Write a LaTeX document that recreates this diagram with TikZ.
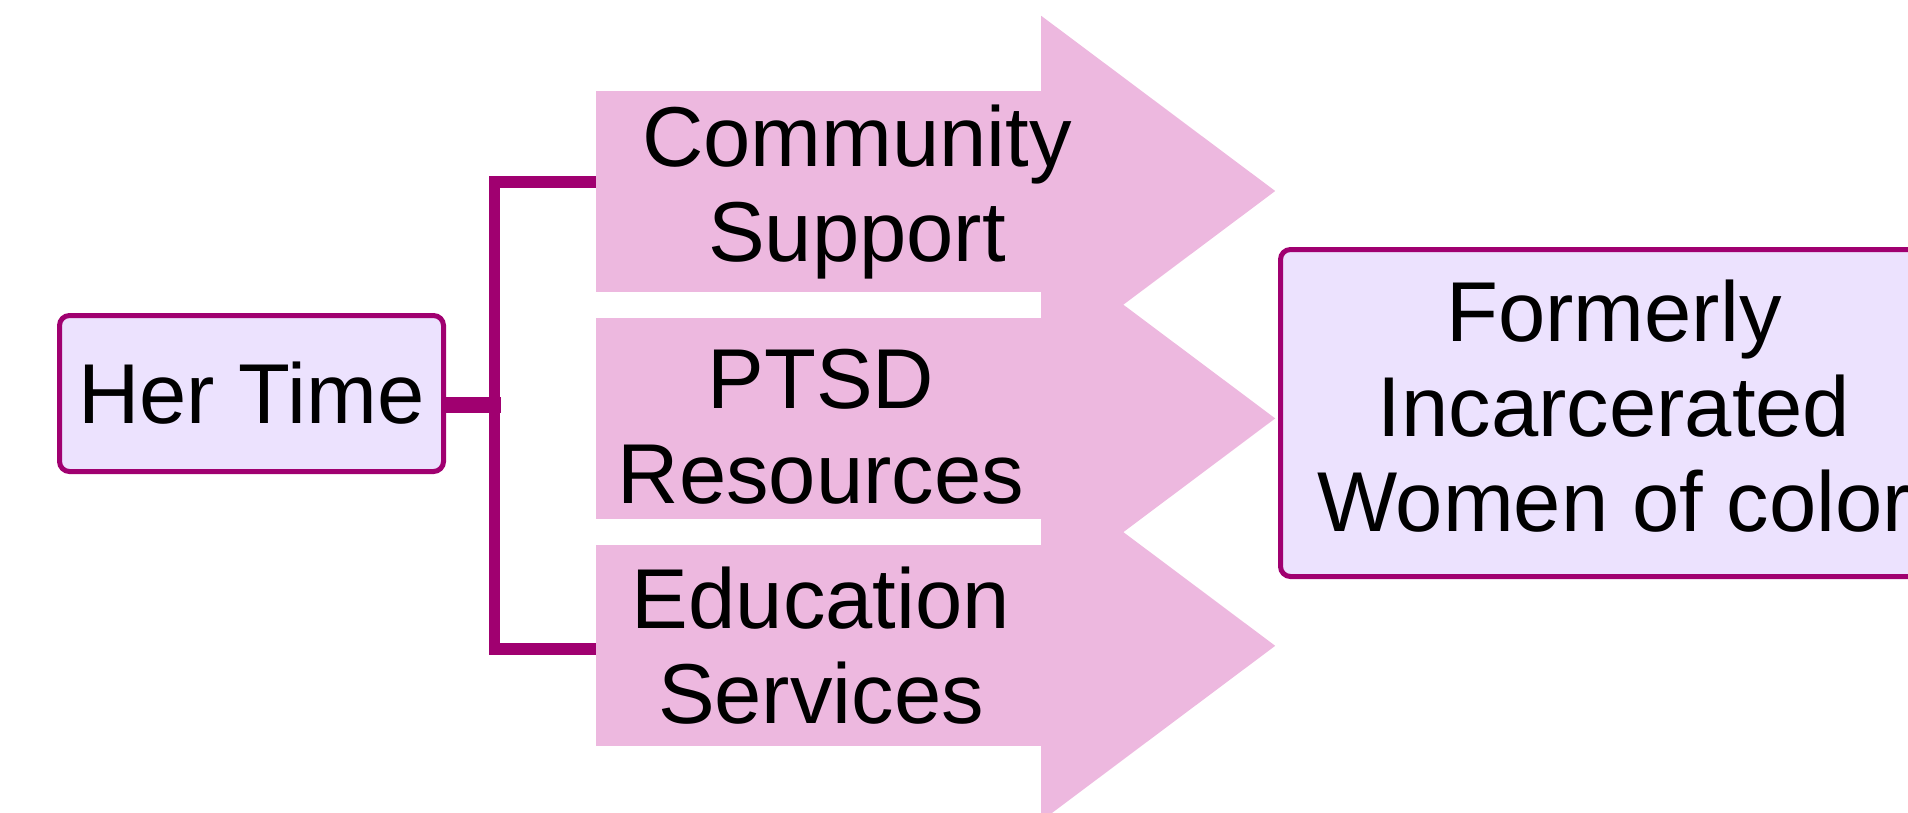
\documentclass[tikz,border=0pt]{standalone}
\usepackage{fontspec}
\setmainfont{Liberation Sans}
\usepackage{tikz}
\usetikzlibrary{positioning}
\definecolor{barpink}{RGB}{237,184,223}
\definecolor{boxlilac}{RGB}{236,226,254}
\definecolor{plum}{RGB}{160,0,112}

\begin{document}
\begin{tikzpicture}[x=1pt,y=-1pt,% one unit is one pixel of the sketch, y grows downwards
		every node/.style={
			align=center,		% so that the "\\" breaks the line
			inner sep=0pt,
			font=\fontsize{85}{95}\selectfont
		},
		box/.style={rectangle,rounded corners=10pt,line width=5pt,draw=plum,fill=boxlilac},
		bar/.style={rectangle,fill=barpink,minimum width=446pt,minimum height=201pt},
		link/.style={draw=plum,line width=11.5pt},
		node distance=26pt
	]
	\useasboundingbox (0,0) rectangle (1908,812);
	\clip (0,0) rectangle (1908,812);
	% the three arrows
	\node[bar](A1) at (819,191) {};
	\node[bar](A2)[below= of A1] {};
	\node[bar](A3)[below= of A2] {};
	\foreach \a in {A1,A2,A3}
		\fill[barpink] ([xshift=-1pt,yshift=74.5pt]\a.north east) -- ([xshift=233pt]\a.east) -- ([xshift=-1pt,yshift=-74.5pt]\a.south east) -- cycle;
	\node(L1) at ([xshift=38pt,yshift=-1pt]A1.center) {Community\\Support};
	\node(L2) at ([xshift=2pt,yshift=-8.5pt]A2.center) {PTSD\\Resources};
	\node(L3) at ([xshift=2pt]A3.center) {Education\\Services};
	% boxes left and right
	\node[box,minimum width=384pt,minimum height=156pt](H) at (251.5,393.5) {Her Time};
	\node[box,minimum width=667pt,minimum height=327pt](W) at (1614,413) {};
	\node(WL) at ([yshift=6.5pt]W.center) {Formerly\\Incarcerated\\Women of color};
	% connectors
	\coordinate (split) at (494.5,405);
	\draw[link,line width=16pt] ([yshift=-11.5pt]H.east) -- ([xshift=6pt]split);
	\draw[link] ([yshift=9pt]A1.west) -| (split) |- ([yshift=-3pt]A3.west);
\end{tikzpicture}
\end{document}
